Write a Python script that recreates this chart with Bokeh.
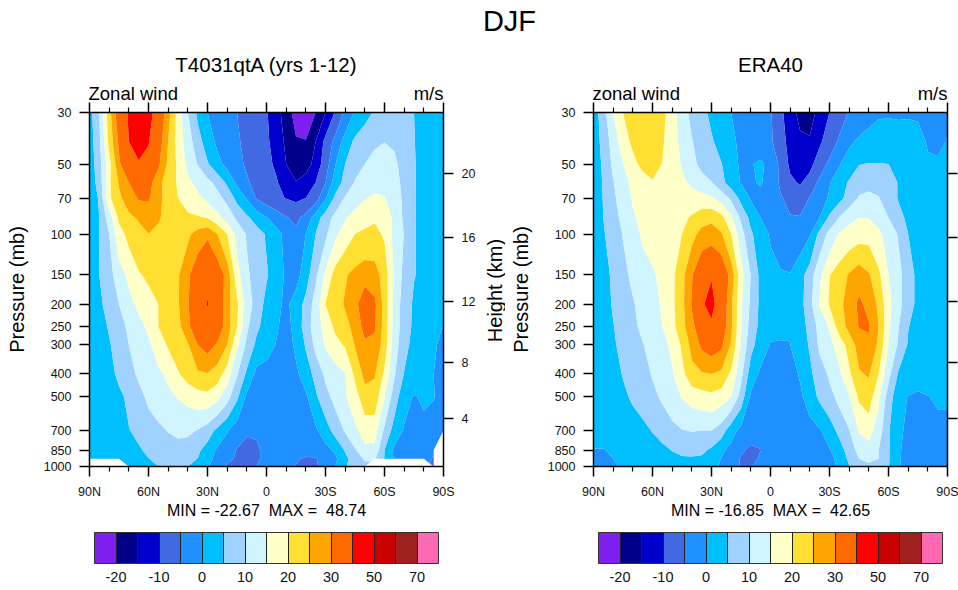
import numpy as np
from bokeh.embed import file_html
from bokeh.resources import INLINE
from bokeh.plotting import figure
from bokeh.layouts import column, row
from bokeh.models import (Range1d, LinearAxis, LogAxis, FixedTicker, Label, ColorBar,
                          LinearColorMapper)

nan = float("nan")
FONT = "Liberation Sans"

LATS = [90, 85, 80, 75, 70, 65, 60, 55, 50, 45, 40, 35, 30, 25, 20, 15, 10, 5, 0,
        -5, -10, -15, -20, -25, -30, -35, -40, -45, -50, -55, -60, -65, -70, -75, -80, -85, -90]
PRESSURE = [30, 40, 50, 60, 70, 85, 100, 150, 200, 250, 300, 400, 500, 700, 850, 925, 1000]
LEVELS = [-60, -20, -15, -10, -5, 0, 5, 10, 15, 20, 25, 30, 40, 50, 60, 70, 120]
COLORS = ["#7f1fef", "#00008b", "#0000cd", "#4169e1", "#1e90ff", "#00bfff", "#a0d2ff", "#d0f5ff",
          "#ffffc8", "#ffe032", "#ffa500", "#ff6a00", "#ff0000", "#c80000", "#a02020", "#ff69b4"]
BAR_LABELS = {1: "-20", 2: "", 3: "-10", 4: "", 5: "0", 6: "", 7: "10", 8: "", 9: "20", 10: "",
              11: "30", 12: "", 13: "50", 14: "", 15: "70"}
P_TICKS = [30, 50, 70, 100, 150, 200, 250, 300, 400, 500, 700, 850, 1000]
LAT_TICKS = {90: "90N", 60: "60N", 30: "30N", 0: "0", -30: "30S", -60: "60S", -90: "90S"}
LAT_MINOR = [80, 70, 50, 40, 20, 10, -10, -20, -40, -50, -70, -80]
HEIGHT_TICKS = {54.9: "20", 103.4: "16", 194.9: "12", 356.0: "8", 620.0: "4"}

MODEL_U = [
 [3,10,23,34,41,45,44,35,27,18,10,4,0,-1.5,-3,-5,-6.5,-8,-9.6,-13,-17.5,-22,-22.6,-20,-15,-9.5,-4,0.5,3.5,5.5,6.5,7,6.5,5,4,3,2],
 [2.5,9,21.5,31,40,43,40.5,33,25,18,12.5,7,2.5,-1,-2.7,-4.5,-6,-7.5,-9.2,-12,-16,-19.5,-19.8,-15,-8.6,-3.5,2,6,7.5,9,9.9,9.3,7.5,5.1,4,3,2],
 [2,8,18,29,36,39.3,37.5,31,24,19,13.8,9.7,5.5,1.5,-1.5,-4,-5.5,-7,-8.8,-10.8,-15,-17.3,-17.5,-13,-7.5,-0.2,5,8.5,10,12,12.5,11,8,5.2,4,3,2],
 [2,7,19,25.5,30,33,32,27,22,19.5,16,13.7,11.5,8.5,4,-1,-4.5,-6.3,-8,-9.5,-12.5,-14.8,-12.5,-10,-5,2.5,6.5,10.3,12,13,13.5,12,8.5,5.2,4,3,2],
 [2,5.5,19,24,27.5,30.5,30.8,26,23.5,20,18,16,13.8,11.5,8.5,3.5,-0.5,-5.5,-7.5,-9,-10.2,-11,-10,-7.5,-0.5,6,10.5,12.5,14.7,15.8,15.2,12.5,9,5.2,4,3,2],
 [2,5,12.5,21,24,25.5,26.5,25.5,23.5,21.5,20.8,20.5,19.8,16.5,13,9,5.8,3,0.3,-2.5,-4.7,-6,-3.5,2.5,7.5,11.5,14.5,17,18.5,19.5,18,14,9,5.2,4,3,2],
 [2,5,10,18,21.5,23.5,25,24,22.5,22,24,27,29,25,20,13.5,9.5,7,4.5,1.8,-1.5,-4,0,5,9,14,17.5,20,20.8,21,19.5,13.5,9.8,5.2,4,3,2],
 [2,5,8,13,16,19.5,21,22,23,24.5,29,34,38,34,28,17,11,7.5,5.5,2.5,-0.8,-1.8,2.5,9,16,22,24.5,26.5,28,27.5,22.5,14.5,8.5,5.2,4,3,2],
 [1.5,4,7,10,13.7,16,18,20,22,24.5,29.5,36,40.5,35,27,21,12.5,8,3.5,1.2,-1,2,6.5,12,20,23,25.5,28.5,33.5,31,23,13.5,7.5,4.3,3.5,2.5,1.5],
 [1,3,5.5,8,11,13.5,16,20,21.5,23.5,29,33.5,37,33.5,27.5,20,11,6,3,0.5,-1.5,1.5,7.5,12.5,17,21,23.5,26.5,32,30.5,23,13,7.5,4,3,1.5,-0.2],
 [1,2.5,4.5,7.5,10,12,14,17.5,20.5,22.5,24.5,30,32,29.5,25,16,8.8,3.8,2,-0.2,-2.5,1,5.5,11.5,15.5,18.5,20.5,25.3,29,29,22.5,12.5,6.5,3.5,2,0.5,-1],
 [1,2,3.5,6,8.3,10.8,12.5,14,16,19.5,22.3,24.2,24.8,22.5,17.5,10.5,4,-1.5,-2,-2.5,-2.5,-1,2.5,6.5,11,12.8,14.7,21,26.5,25.5,19,10.5,4.8,3,1.5,0,-1.5],
 [0.5,1.5,2.5,4,6,8.5,11,12.5,14,15.3,16.5,18,18.5,16.5,12,6,-1,-2,-2.5,-3,-3.5,-3,-0.8,4.2,8.5,11.5,14.5,18,23,23,15.3,7.5,1.8,-0.3,0.6,0.2,-1.8],
 [0.5,1,1.8,3.2,4.8,6.3,7.8,9,10.2,11,10.8,9.8,7.5,3.8,0.4,-2.8,-4.4,-4.3,-3.5,-3,-3,-2.8,-2,-0.8,2.5,7,10.5,14,17,17,9,3,-0.5,-2.5,-1,-2,-3],
 [0.5,0.8,1.2,1.8,2.8,4.4,6,7.2,8,8.5,8.2,6,3,-0.8,-2.5,-5.2,-6.5,-5.8,-3.5,-3,-3,-2.8,-3,-3.2,-1.5,0.8,5.5,9.5,14,13.5,5,-1,-3,-3.5,-3,-4.5,nan],
 [0.5,0.5,0.8,1.2,2,3.3,4.9,6,6.8,7,6.5,4.9,1.5,-1.5,-4,-5.5,-6.8,-5.8,-3.5,-3,-3,-4.5,-5.6,-5.3,-3,-1,3.8,7.5,10.5,10.5,4.8,-0.5,-2.5,-3,-3,-5.5,nan],
 [nan,nan,nan,nan,0.5,2,3.8,5,5.2,4.8,5,3,0.5,-2,-5.5,-6.5,-6.8,-5,-3.5,-3,-3,-5.2,-6,-5.5,-3.5,0,4.5,7,9,nan,nan,nan,nan,nan,nan,-6,nan],
]
ERA40_U = [
 [2,8,15,20,23,25,24.5,21.5,17,12.5,8.5,6.3,4,2,0,-1.2,-2.5,-3.5,-4.6,-8.5,-13.5,-16,-16.8,-13.5,-10,-7.3,-4.6,-3.3,-1.5,-0.5,-0.3,-0.3,-0.3,-0.4,-0.9,-1.2,-0.3],
 [1.5,7,12,17.8,21,23.5,23.5,20.6,17,13.7,10.3,7.5,5.5,3.3,0.8,-0.8,-2,-3,-4.3,-7.5,-12,-14.3,-14.5,-10.8,-7.5,-4.3,-1,0.8,1.5,1.8,1.5,1,1.2,1,-0.3,-0.5,0.1],
 [1.5,6,11,15,18.5,21.5,22.5,19.8,17.5,14.5,11.5,8.5,7,5.2,2,-0.8,-0.3,0.8,-1.5,-6,-11,-13.5,-11.5,-7.3,-4,-0.4,2.5,4.8,5.2,5.2,5,3.5,2,1,0.4,0.3,0.7],
 [1.2,5.5,9.7,13.5,16,17.5,19.5,19,18,16,14,12,10.2,6.5,2.5,-0.3,-0.5,0.4,-2,-5.7,-9,-10.5,-8,-4,-0.3,2.8,5.5,8,9,8.5,6.8,4.8,3,1.8,1.2,0.8,0.9],
 [1,5.3,9,12.5,15.5,16.5,17.5,18,18.3,17.8,17,16.5,15.6,13,9,3.5,-0.6,-1.2,-2.5,-4.5,-6.5,-7,-4.8,-2,0.5,3.5,7,10.4,10.8,10.2,7.5,4.7,3,2,1.5,1,1],
 [1,5,8.3,11.2,14.5,16,17,17.5,18,19,20.5,23,24,21.5,16,9,3.5,0,-2,-3.5,-4.7,-4.8,-2.5,0,6,10.2,13.5,15,14.8,13,10,6.5,4,2.5,1.8,1.2,1],
 [1,4.5,7.5,10.2,13,15.8,16.8,17.5,18.5,20,23.5,26.5,27,25.5,20,12,5.8,2,-0.5,-2.5,-3,-2.5,-0.4,6.5,11.5,15.5,17,18,18.3,16,13,9.6,5,3,2,1.5,1],
 [1,3,6,8.8,11,12.8,14.4,16.3,18.8,23.5,29.5,36,39.5,35.5,28,17,9.8,3.5,1.5,0.5,0.2,3,7.5,14,19.8,22.5,25.5,28,25.5,21,15,11.5,7.5,3.5,2.5,1.5,1],
 [1,3,5.5,7.5,9.6,11.5,13.5,15.5,18.8,23.5,30.5,39,42.6,35,26,15.8,9,3.8,2,1.5,1.5,3,8.5,15.5,20.5,23.8,27,31,28.5,24,16.5,11.5,7.5,3.5,2.5,1.5,1],
 [1,2.5,4.8,7,9,11,12.5,15,18.3,23.3,28.5,34,38.5,34,26,15.5,8,3.5,1.5,0.5,0.2,2,7,11.5,15.5,22.5,26.5,30.3,30.5,25,16,10.3,5.2,3.3,2.5,1.5,1],
 [1,2,4.3,6.5,8,9.8,11.5,13.5,16,20.8,26.5,31,33,31,24.5,14.5,6.5,2.5,-0.3,-0.2,-0.05,2.5,5.5,11,13.7,17,22,27,29,24,15,9.3,4.5,3.2,2.5,1.5,1],
 [0.5,1.5,3,5.3,7,8.5,10.3,12.5,14.5,18.5,23.5,24.5,25,24,19,11.5,2.5,-1,-2.5,-3,-2,0.5,4,7.5,10.8,14,19,24.5,25.5,20,11.5,4.5,3.5,3,2.5,1.5,1],
 [0.5,1,2.5,4,5.8,7.5,9,10.7,13,15.3,17,18,18.7,17.5,15,8,-0.8,-2,-3,-3.5,-3,-1,2.5,6,8.5,11.5,14.7,20.8,22.5,16,7.5,1.8,-0.2,-1,-0.1,0.5,0.5],
 [0.5,1,1.2,1.5,2.5,3.5,5.3,7,8.5,9.8,10.2,10,10,7.5,2,-1.5,-2.5,-3.5,-3.5,-3.5,-3.5,-3,-2,-0.5,2.5,6.5,9.7,15.5,17,12.5,5.5,1,-1,-1.5,-1.5,-1,-1],
 [-0.05,-0.1,0.3,0.7,1,1.5,2.5,3.8,5.2,6.5,6.5,6,4.2,1,-1.5,-4.2,-6,-5.1,-3.5,-3,-3,-3,-3,-1.5,-0.3,2.5,7.5,11.5,13,10,5.5,0.6,-1.5,-2,-2,-1.5,-1.5],
 [-0.8,-0.5,0,0.3,0.6,1,1.8,2.5,3.5,4.3,4.5,4.3,3,-0.2,-2,-5.5,-6,-4.5,-3.5,-3,-3,-3,-2.5,-2,-1.5,1.5,6,10,11,10,5.5,0.5,-1.5,-2,-2,-2,-2],
 [-1.5,-1,-0.3,0.3,0.6,1,1.5,2,2.5,3,3,2.5,1.5,-0.7,-2.5,-5.5,-5.2,-4,-3.5,-3,-3,-2.8,-2.5,-2,-1,0.5,4.8,8,9,8,5.3,0.4,-1.5,-2,-2,-2,-2],
]


def txt(text, x, y, size, align="left", baseline="middle", angle=0):
    return Label(x=x, y=y, x_units="screen", y_units="screen", text=text, text_font=FONT,
                 text_font_size=size, text_align=align, text_baseline=baseline, text_color="black",
                 angle=angle, angle_units="deg")


def style(ax, size="12.5px"):
    ax.axis_line_color = "black"
    ax.axis_line_width = 1.5
    ax.major_tick_line_color = "black"
    ax.major_tick_line_width = 1.5
    ax.minor_tick_line_color = "black"
    ax.minor_tick_line_width = 1.2
    ax.major_tick_in = 0
    ax.major_tick_out = 10
    ax.minor_tick_in = 0
    ax.minor_tick_out = 5
    ax.major_label_text_font = FONT
    ax.major_label_text_font_size = size
    ax.major_label_text_color = "#111111"
    ax.major_label_standoff = 8
    ax.axis_label_text_font = FONT
    ax.axis_label_text_font_style = "normal"
    ax.axis_label_text_color = "black"


def strip(width, height):
    s = figure(width=width, height=height, x_range=(0, 1), y_range=(0, 1), toolbar_location=None,
               output_backend="svg", outline_line_color=None, min_border=0,
               x_axis_location=None, y_axis_location=None)
    s.grid.visible = False
    return s


def panel(table, stats, border_left, border_right, height_labels):
    p = figure(frame_width=354, frame_height=354, min_border_left=border_left,
               min_border_right=border_right, min_border_top=10, min_border_bottom=122,
               x_range=Range1d(90, -90), y_range=Range1d(1000, 30), y_axis_type="log",
               toolbar_location=None, output_backend="svg", background_fill_color="white",
               outline_line_color=None, border_fill_color=None)
    p.grid.visible = False
    z = np.array(table, dtype=float)[:, ::-1]
    p.contour(np.array(LATS[::-1], dtype=float), np.array(PRESSURE, dtype=float), z, LEVELS,
              fill_color=COLORS, line_color=None)

    lat_ticker = FixedTicker(ticks=list(LAT_TICKS), minor_ticks=LAT_MINOR)
    xa = p.xaxis[0]
    style(xa)
    xa.ticker = lat_ticker
    xa.major_label_overrides = LAT_TICKS
    xa.axis_label = stats
    xa.axis_label_text_font_size = "16px"
    xa.axis_label_standoff = 0

    top = LinearAxis(ticker=lat_ticker, major_label_overrides={k: "" for k in LAT_TICKS})
    style(top)
    top.major_label_text_font_size = "0px"
    top.major_label_standoff = 0
    p.add_layout(top, "above")

    ya = p.yaxis[0]
    style(ya)
    ya.ticker = FixedTicker(ticks=P_TICKS, minor_ticks=[])
    ya.major_label_overrides = {k: str(k) for k in P_TICKS}
    ya.axis_label = "Pressure (mb)"
    ya.axis_label_text_font_size = "20px"
    ya.axis_label_standoff = 13

    right = LogAxis(ticker=FixedTicker(ticks=list(HEIGHT_TICKS), minor_ticks=[]),
                    major_label_overrides=HEIGHT_TICKS if height_labels else {k: "" for k in HEIGHT_TICKS})
    style(right)
    p.add_layout(right, "right")

    mapper = LinearColorMapper(palette=COLORS, low=0, high=16)
    bar = ColorBar(color_mapper=mapper, ticker=FixedTicker(ticks=list(BAR_LABELS), minor_ticks=[]),
                   major_label_overrides=BAR_LABELS, orientation="horizontal",
                   location=(5, -118), width=344, height=31, padding=0, margin=0,
                   bar_line_color="#333333", bar_line_width=1,
                   major_tick_line_color="#222222", major_tick_line_width=1,
                   major_tick_in=31, major_tick_out=0, minor_tick_line_color=None,
                   major_label_text_font=FONT, major_label_text_font_size="14.5px",
                   major_label_text_color="#111111", label_standoff=8,
                   background_fill_color=None, border_line_color=None)
    p.add_layout(bar, "center")
    return p


head = strip(958, 106)
head.add_layout(txt("DJF", 509, 86, "29px", align="center"))
head.add_layout(txt("T4031qtA (yrs 1-12)", 266, 42, "20.5px", align="center"))
head.add_layout(txt("ERA40", 770, 42, "20.5px", align="center"))
head.add_layout(txt("Zonal wind", 88, 13, "18.5px"))
head.add_layout(txt("m/s", 443, 13, "18.5px", align="right"))
head.add_layout(txt("zonal wind", 592, 13, "18.5px"))
head.add_layout(txt("m/s", 947, 13, "18.5px", align="right"))

left = panel(MODEL_U, "MIN = -22.67\u00a0 MAX =\u00a0 48.74", 89, 39, True)
gap = strip(23, 486)
gap.add_layout(txt("Height (km)", 12, 176, "20px", align="center", angle=90))
right = panel(ERA40_U, "MIN = -16.85\u00a0 MAX =\u00a0 42.65", 88, 11, False)

page = column(head, row(left, gap, right, spacing=0, margin=(-4, 0, 0, 0)), spacing=0)
open("out.html", "w").write(file_html(page, INLINE))
